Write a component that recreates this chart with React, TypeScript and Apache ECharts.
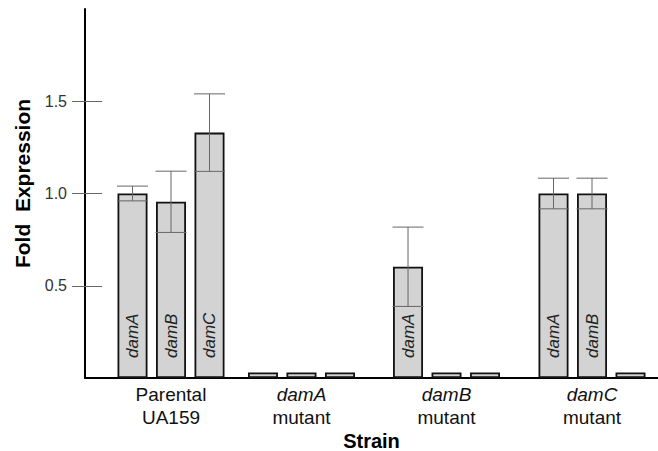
import React, { useEffect, useRef } from 'react';
import * as echarts from 'echarts';

// ---- data ----
const strains = ['Parental\nUA159', 'damA\nmutant', 'damB\nmutant', 'damC\nmutant'];
const genes = ['damA', 'damB', 'damC'];
const parentalValues = [1.0, 0.955, 1.33];
const parentalErrors = [0.04, 0.166, 0.21];
const damAMutantValues = [0.03, 0.03, 0.03];
const damAMutantErrors = [0, 0, 0];
const damBMutantValues = [0.603, 0.03, 0.03];
const damBMutantErrors = [0.215, 0, 0];
const damCMutantValues = [1.0, 1.0, 0.03];
const damCMutantErrors = [0.083, 0.083, 0];
const yTicks = [0.5, 1.0, 1.5];

// ---- layout (x axis measured in bar pitches) ----
const GROUP_CENTERS = [2.234, 5.623, 9.39, 13.169];
const X_MAX = 14.883;
const FONT = 'Liberation Sans, Arial, Helvetica, sans-serif';

const groupValues = [parentalValues, damAMutantValues, damBMutantValues, damCMutantValues];
const groupErrors = [parentalErrors, damAMutantErrors, damBMutantErrors, damCMutantErrors];

export default function App() {
  const ref = useRef<HTMLDivElement>(null);
  useEffect(() => {
    if (!ref.current) return;
    const chart = echarts.init(ref.current, undefined, { renderer: 'svg' });

    const barData: any[] = [];
    const errData: any[] = [];
    groupValues.forEach((vals, g) => {
      vals.forEach((v, b) => {
        const x = GROUP_CENTERS[g] + (b - 1);
        const labelled = v > 0.1;
        barData.push({
          value: [x, v],
          name: genes[b],
          label: { show: labelled },
        });
        errData.push([x, v, groupErrors[g][b]]);
      });
    });

    const xLabel = (val: number) => {
      const i = GROUP_CENTERS.findIndex((c) => Math.abs(c - val) < 1e-6);
      if (i < 0) return '';
      const [l1, l2] = strains[i].split('\n');
      const first = l1.startsWith('dam') ? `{i|${l1}}` : `{n|${l1}}`;
      return `${first}\n{n|${l2}}`;
    };

    chart.setOption({
      animation: false,
      backgroundColor: '#fff',
      grid: { left: 85, right: 0, top: 9, bottom: 73, outerBoundsMode: 'none' },
      xAxis: {
        type: 'value',
        min: 0,
        max: X_MAX,
        splitLine: { show: false },
        axisTick: { show: false },
        axisLine: { lineStyle: { color: '#000', width: 2 } },
        axisLabel: {
          customValues: GROUP_CENTERS,
          formatter: xLabel,
          margin: 5,
          color: '#111',
          fontFamily: FONT,
          rich: {
            n: { fontSize: 19, fontFamily: FONT, color: '#111', lineHeight: 23 },
            i: { fontSize: 19, fontFamily: FONT, color: '#111', lineHeight: 23, fontStyle: 'italic' },
          },
        },
        name: 'Strain',
        nameLocation: 'middle',
        nameGap: 53,
        nameMoveOverlap: false,
        nameTextStyle: {
          fontSize: 20,
          lineHeight: 20,
          fontWeight: 'bold',
          fontFamily: FONT,
          color: '#000',
        },
      },
      yAxis: [
        {
          type: 'value',
          min: 0,
          max: 2,
          interval: 0.5,
          splitLine: { show: false },
          axisLine: { show: true, lineStyle: { color: '#000', width: 2 } },
          axisTick: {
            show: true,
            length: 13,
            customValues: yTicks,
            lineStyle: { color: '#666', width: 1 },
          },
          axisLabel: {
            customValues: yTicks,
            formatter: (v: number) => v.toFixed(1),
            margin: 18,
            fontSize: 16,
            fontFamily: FONT,
            color: '#333',
          },
          name: 'Fold  Expression',
          nameLocation: 'middle',
          nameRotate: 90,
          nameGap: 52,
          nameMoveOverlap: false,
          nameTextStyle: {
            fontSize: 21,
            fontWeight: 'bold',
            fontFamily: FONT,
            color: '#000',
            padding: [0, 0, 0, 20],
          },
        },
        {
          type: 'value',
          min: 0,
          max: 2,
          interval: 0.5,
          position: 'left',
          offset: 0,
          splitLine: { show: false },
          axisLine: { show: false },
          axisLabel: { show: false },
          axisTick: {
            show: true,
            inside: true,
            length: 17,
            customValues: yTicks,
            lineStyle: { color: '#666', width: 1 },
          },
        },
      ],
      series: [
        {
          type: 'bar',
          data: barData,
          barWidth: 30,
          itemStyle: { color: '#d3d3d3', borderColor: '#111', borderWidth: 1.8 },
          label: {
            show: true,
            formatter: '{b}',
            position: 'insideBottom',
            rotate: 90,
            align: 'left',
            verticalAlign: 'middle',
            distance: 20,
            fontSize: 17,
            fontStyle: 'italic',
            fontFamily: FONT,
            color: '#222',
          },
          z: 2,
        },
        {
          type: 'custom',
          data: errData,
          z: 3,
          renderItem: (params: any, api: any) => {
            const x = api.value(0);
            const v = api.value(1);
            const e = api.value(2);
            if (!e) return { type: 'group', children: [] };
            const top = api.coord([x, v + e]);
            const bot = api.coord([x, v - e]);
            const hw = 15.5;
            const style = { stroke: '#666', lineWidth: 1 };
            return {
              type: 'group',
              children: [
                { type: 'line', shape: { x1: top[0], y1: top[1], x2: bot[0], y2: bot[1] }, style },
                { type: 'line', shape: { x1: top[0] - hw, y1: top[1], x2: top[0] + hw, y2: top[1] }, style },
                { type: 'line', shape: { x1: bot[0] - hw, y1: bot[1], x2: bot[0] + hw, y2: bot[1] }, style },
              ],
            };
          },
        },
      ],
    });
    return () => chart.dispose();
  }, []);
  return (
    <div
      ref={ref}
      style={{ position: 'fixed', left: 0, top: 0, width: 658, height: 451, background: '#fff' }}
    />
  );
}
